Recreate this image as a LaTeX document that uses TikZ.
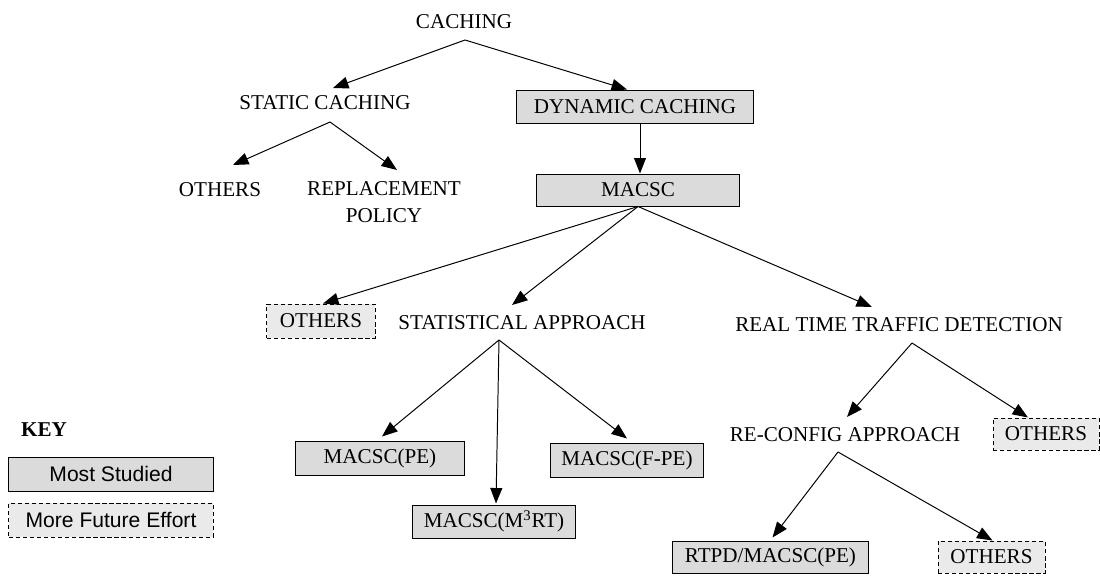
\documentclass[tikz,border=0pt]{standalone}
\usepackage{fontspec}
\setmainfont{Liberation Serif}
\setsansfont{Liberation Sans}
\usetikzlibrary{arrows.meta,calc}
\definecolor{boxgray}{gray}{0.86}
\tikzset{
  lbl/.style={inner sep=0pt, font=\fontsize{15}{19}\selectfont},
  studied/.style={lbl, draw, line width=0.7pt, fill=boxgray, minimum height=0.85cm},
  future/.style={lbl, draw, line width=0.7pt, dash pattern=on 3pt off 2pt, fill=boxgray!60, minimum height=0.85cm},
  arr/.style={line width=0.7pt, -{Triangle[length=11pt,width=8.5pt]}}
}
\begin{document}
\begin{tikzpicture}[x=0.025cm, y=0.025cm]
\useasboundingbox (0,0) rectangle (1100,575);

% tree nodes
\node[lbl] (cach) at (464,553) {CACHING};
\node[lbl] (stat) at (325,472) {STATIC CACHING};
\node[studied, minimum width=5.9cm, minimum height=0.825cm] (dyn) at (635,468.5) {DYNAMIC CACHING};
\node[lbl] (oth1) at (220,385) {OTHERS};
\node[lbl, align=center] (repl) at (384,373) {REPLACEMENT\\POLICY};
\node[studied, minimum width=5.05cm, minimum height=0.8cm] (macsc) at (638,385) {MACSC};
\node[future, minimum width=2.7cm] (oth2) at (321,254) {OTHERS};
\node[lbl] (statap) at (522,252) {STATISTICAL APPROACH};
\node[lbl] (rttd) at (899,250) {REAL TIME TRAFFIC DETECTION};
\node[studied, minimum width=4.2cm] (pe) at (380,117) {MACSC(PE)};
\node[studied, minimum width=4.05cm, minimum height=0.825cm] (m3rt) at (494,53.5) {MACSC(M\textsuperscript{3}RT)};
\node[studied, minimum width=3.8cm] (fpe) at (627,115) {MACSC(F-PE)};
\node[lbl] (reconf) at (845,140) {RE-CONFIG APPROACH};
\node[future, minimum width=2.65cm, minimum height=0.8cm] (oth3) at (1046,141) {OTHERS};
\node[studied, minimum width=4.875cm, minimum height=0.8cm] (rtpd) at (770.5,18) {RTPD/MACSC(PE)};
\node[future, minimum width=2.675cm, minimum height=0.8cm] (oth4) at (991.5,18) {OTHERS};

% key
\node[lbl, font=\fontsize{15}{19}\selectfont\bfseries] (key) at (44,145) {KEY};
\node[studied, minimum width=5.1cm, font=\fontsize{15}{19}\sffamily] (ms) at (111,101) {Most Studied};
\node[future, minimum width=5.1cm, font=\fontsize{15}{19}\sffamily] (mfe) at (111,55) {More Future Effort};

% connectors
\draw[arr] ($(cach)+(1,-18)$) -- ($(stat)+(8,15)$);
\draw[arr] ($(cach)+(1,-18)$) -- ($(dyn.north)+(-8,0)$);
\draw[arr] ($(stat)+(5,-19)$) -- ($(oth1)+(13,25)$);
\draw[arr] ($(stat)+(5,-19)$) -- ($(repl)+(13,32)$);
\draw[arr] ($(dyn.south)+(5,0)$) -- ($(macsc.north)+(2,0)$);
\draw[arr] (macsc.south) -- ($(oth2.north)+(2,0)$);
\draw[arr] (macsc.south) -- ($(statap)+(-10,18)$);
\draw[arr] (macsc.south) -- ($(rttd)+(-27,18)$);
\draw[arr] ($(statap)+(-23,-17)$) -- ($(pe.north)+(2,4)$);
\draw[arr] ($(statap)+(-23,-17)$) -- ($(m3rt.north)+(2,1)$);
\draw[arr] ($(statap)+(-23,-17)$) -- ($(fpe.north)+(0,4)$);
\draw[arr] ($(rttd)+(13,-18)$) -- ($(reconf)+(2,18)$);
\draw[arr] ($(rttd)+(13,-18)$) -- ($(oth3.north)+(-18,0)$);
\draw[arr] ($(reconf)+(-7,-17)$) -- ($(rtpd.north)+(2,3)$);
\draw[arr] ($(reconf)+(-7,-17)$) -- ($(oth4.north)+(1,0)$);
\end{tikzpicture}
\end{document}
